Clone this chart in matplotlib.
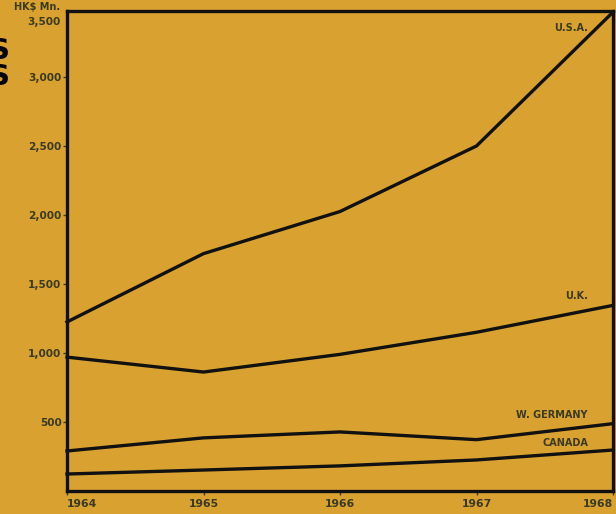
import matplotlib.pyplot as plt

# Hong Kong domestic exports by main market, HK$ million
years = [1964, 1965, 1966, 1967, 1968]
usa = [1225, 1720, 2025, 2500, 3470]
uk = [970, 862, 990, 1150, 1345]
w_germany = [290, 385, 428, 372, 488]
canada = [123, 152, 182, 225, 297]

series_labels = ["U.S.A.", "U.K.", "W. GERMANY", "CANADA"]
label_y = [3355, 1415, 551, 348]
y_ticks = [500, 1000, 1500, 2000, 2500, 3000]
y_tick_labels = ["500", "1,000", "1,500", "2,000", "2,500", "3,000"]

BG = "#D9A230"
INK = "#111111"
LABEL = "#3b3a22"

fig = plt.figure(figsize=(6.16, 5.14), dpi=100, facecolor=BG)
ax = fig.add_axes([67 / 616, 1 - 491 / 514, 546 / 616, 480 / 514], facecolor=BG)

for vals in (usa, uk, w_germany, canada):
    ax.plot(years, vals, color=INK, lw=2.4, solid_joinstyle="miter", clip_on=False)

ax.set_xlim(1964, 1968)
ax.set_ylim(0, 3478)

for side in ("left", "right", "top", "bottom"):
    ax.spines[side].set_linewidth(2.4)
    ax.spines[side].set_color(INK)

ax.set_yticks(y_ticks)
ax.set_yticklabels(y_tick_labels)
ax.tick_params(axis="y", length=3, width=1, color=LABEL, labelsize=7.6, labelcolor=LABEL, pad=1)
for t in ax.get_yticklabels():
    t.set_fontweight("bold")

ax.set_xticks(years)
ax.set_xticklabels([str(y) for y in years])
ax.tick_params(axis="x", length=3, width=1, color=LABEL, labelsize=7.8, labelcolor=LABEL, pad=3)
for t, ha in zip(ax.get_xticklabels(), ["left", "center", "center", "center", "right"]):
    t.set_fontweight("bold")
    t.set_horizontalalignment(ha)

# unit and top value above the y axis
ax.text(-0.012, 1.008, "HK$ Mn.", transform=ax.transAxes, ha="right", va="center",
        fontsize=7, fontweight="bold", color=LABEL)
ax.text(-0.012, 0.978, "3,500", transform=ax.transAxes, ha="right", va="center",
        fontsize=7.6, fontweight="bold", color=LABEL)

# series names, right-aligned near the 1968 edge
for name, yv in zip(series_labels, label_y):
    ax.text(0.954, yv, name, transform=ax.get_yaxis_transform(), ha="right", va="center",
            fontsize=7, fontweight="bold", color=LABEL)

# heading letters running off the left edge
fig.text(10 / 616, 1 - 64 / 514, "S\nS", ha="right", va="center", fontsize=21,
         fontweight="bold", color="#000000", linespacing=0.95)

fig.savefig("out.png", dpi=100, facecolor=BG)
